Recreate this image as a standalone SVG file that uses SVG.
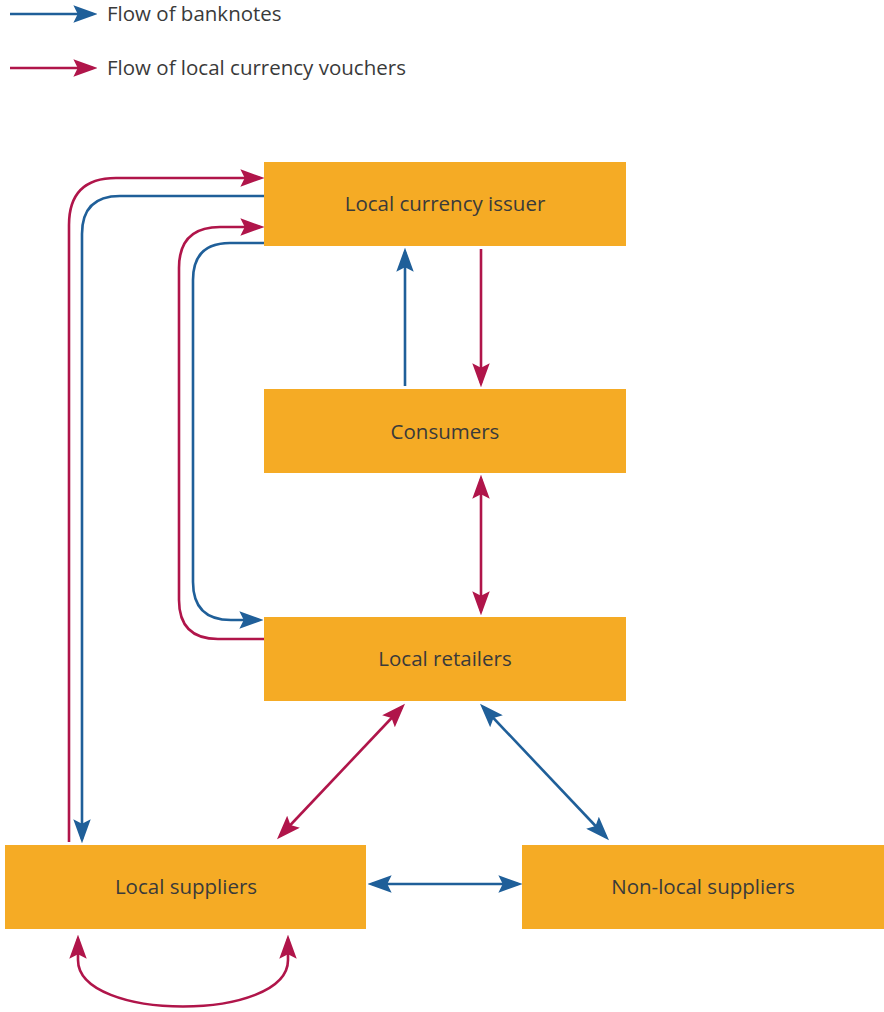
<svg xmlns="http://www.w3.org/2000/svg" width="884" height="1012" viewBox="0 0 884 1012">
<defs>
<marker id="ab" markerUnits="userSpaceOnUse" markerWidth="24" markerHeight="18" viewBox="0 0 22 16" refX="18" refY="8" orient="auto-start-reverse"><path d="M0,0 L22,8 L0,16 L4,8 z" fill="#1f5f99"/></marker>
<marker id="ar" markerUnits="userSpaceOnUse" markerWidth="24" markerHeight="18" viewBox="0 0 22 16" refX="18" refY="8" orient="auto-start-reverse"><path d="M0,0 L22,8 L0,16 L4,8 z" fill="#b0154a"/></marker>
</defs>
<style>
.box{fill:#f5ab25}
.t{font-family:"Open Sans","Noto Sans",sans-serif;font-size:20.5px;fill:#3a3a3a}
.c{text-anchor:middle}
.b{fill:none;stroke:#1f5f99;stroke-width:2.6}
.r{fill:none;stroke:#b0154a;stroke-width:2.6}
</style>
<rect width="884" height="1012" fill="#fff"/>
<g id="legend">
<line class="b" x1="10" y1="14" x2="93" y2="14" marker-end="url(#ab)"/>
<text class="t" x="107" y="21">Flow of banknotes</text>
<line class="r" x1="10" y1="68" x2="93" y2="68" marker-end="url(#ar)"/>
<text class="t" x="107" y="75">Flow of local currency vouchers</text>
</g>
<g id="issuer"><rect class="box" x="264" y="162" width="362" height="84"/><text class="t c" x="445" y="211">Local currency issuer</text></g>
<g id="consumers"><rect class="box" x="264" y="389" width="362" height="84"/><text class="t c" x="445" y="439">Consumers</text></g>
<g id="retailers"><rect class="box" x="264" y="617" width="362" height="84"/><text class="t c" x="445" y="666">Local retailers</text></g>
<g id="suppliers"><rect class="box" x="5" y="845" width="361" height="84"/><text class="t c" x="186" y="894">Local suppliers</text></g>
<g id="nonlocal"><rect class="box" x="522" y="845" width="362" height="84"/><text class="t c" x="703" y="894">Non-local suppliers</text></g>
<g id="connectors">
<path class="r" d="M69 842 V225 Q69 178 116 178 H260" marker-end="url(#ar)"/>
<path class="b" d="M264 196 H120 Q82 196 82 234 V839" marker-end="url(#ab)"/>
<path class="r" d="M264 639 H218 Q179 639 179 600 V268 Q179 227 220 227 H260" marker-end="url(#ar)"/>
<path class="b" d="M264 243 H230 Q193 243 193 280 V582 Q193 620 231 620 H259" marker-end="url(#ab)"/>
<line class="b" x1="405" y1="386" x2="405" y2="252" marker-end="url(#ab)"/>
<line class="r" x1="481" y1="249" x2="481" y2="383" marker-end="url(#ar)"/>
<line class="r" x1="481" y1="479" x2="481" y2="611" marker-start="url(#ar)" marker-end="url(#ar)"/>
<line class="r" x1="402" y1="707" x2="280" y2="836" marker-start="url(#ar)" marker-end="url(#ar)"/>
<line class="b" x1="483" y1="707" x2="606" y2="837" marker-start="url(#ab)" marker-end="url(#ab)"/>
<line class="b" x1="372" y1="884" x2="518" y2="884" marker-start="url(#ab)" marker-end="url(#ab)"/>
<path class="r" d="M78 939 V960 C78 1022 288 1022 288 960 V939" marker-start="url(#ar)" marker-end="url(#ar)"/>
</g>
</svg>
